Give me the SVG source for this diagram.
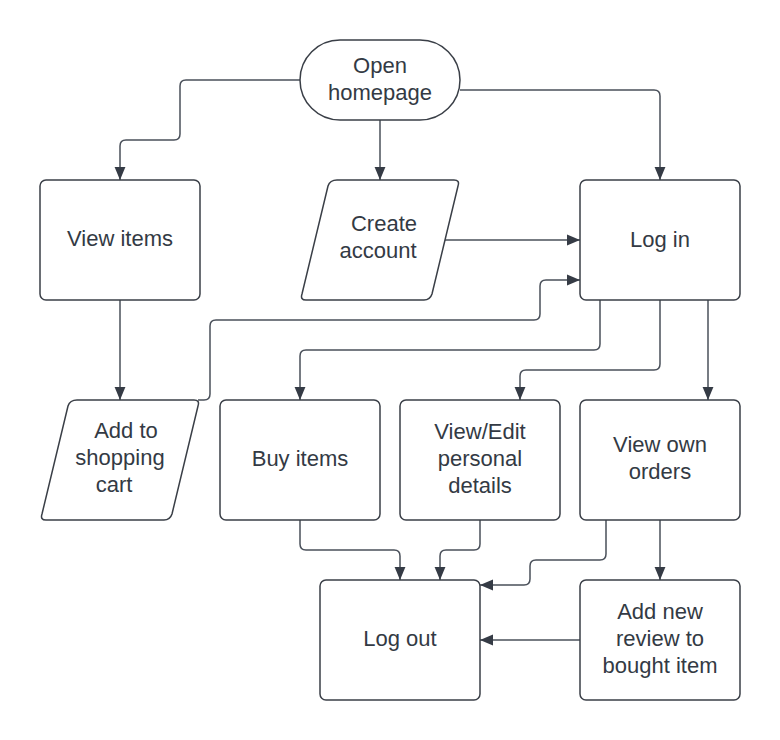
<svg xmlns="http://www.w3.org/2000/svg" width="780" height="740" viewBox="0 0 780 740">
<style>
.s{fill:#fff;stroke:#3a3f47;stroke-width:1.5}
.c{fill:none;stroke:#4a505a;stroke-width:1.5}
.t{font-family:"Liberation Sans",Arial,sans-serif;font-size:22px;fill:#333a44;text-anchor:middle}
</style>
<defs>
<marker id="a" viewBox="0 0 12 12" refX="12" refY="6" markerWidth="13" markerHeight="13" markerUnits="userSpaceOnUse" orient="auto">
<path d="M0,1 L12,6 L0,11 Z" fill="#353b45"/>
</marker>
</defs>
<rect width="780" height="740" fill="#fff"/>
<g id="connectors">
<path class="c" marker-end="url(#a)" d="M300,80 H186 Q180,80 180,86 V134 Q180,140 174,140 H126 Q120,140 120,146 V180"/>
<path class="c" marker-end="url(#a)" d="M380,120 V180"/>
<path class="c" marker-end="url(#a)" d="M460,90 H654 Q660,90 660,96 V180"/>
<path class="c" marker-end="url(#a)" d="M445,240 H580"/>
<path class="c" marker-end="url(#a)" d="M120,300 V400"/>
<path class="c" marker-end="url(#a)" d="M198,400 H204 Q210,400 210,394 V326 Q210,320 216,320 H534 Q540,320 540,314 V286 Q540,280 546,280 H580"/>
<path class="c" marker-end="url(#a)" d="M600,300 V344 Q600,350 594,350 H306 Q300,350 300,356 V400"/>
<path class="c" marker-end="url(#a)" d="M660,300 V364 Q660,370 654,370 H526 Q520,370 520,376 V400"/>
<path class="c" marker-end="url(#a)" d="M708,300 V400"/>
<path class="c" marker-end="url(#a)" d="M300,520 V544 Q300,550 306,550 H394 Q400,550 400,556 V580"/>
<path class="c" marker-end="url(#a)" d="M480,520 V544 Q480,550 474,550 H446 Q440,550 440,556 V580"/>
<path class="c" marker-end="url(#a)" d="M606,520 V554 Q606,560 600,560 H536 Q530,560 530,566 V579 Q530,585 524,585 H480"/>
<path class="c" marker-end="url(#a)" d="M660,520 V580"/>
<path class="c" marker-end="url(#a)" d="M580,640 H480"/>
</g>
<g id="open-homepage">
<rect class="s" x="300" y="40" width="160" height="80" rx="40"/>
<text class="t" x="380" y="73">Open</text>
<text class="t" x="380" y="100">homepage</text>
</g>
<g id="view-items">
<rect class="s" x="40" y="180" width="160" height="120" rx="6"/>
<text class="t" x="120" y="246">View items</text>
</g>
<g id="create-account">
<path class="s" d="M337,180 H454 Q460,180 458,186 L432,294 Q430,300 424,300 H306 Q300,300 302,294 L328,186 Q330,180 337,180 Z"/>
<text class="t" x="384" y="231">Create</text>
<text class="t" x="378" y="258">account</text>
</g>
<g id="log-in">
<rect class="s" x="580" y="180" width="160" height="120" rx="6"/>
<text class="t" x="660" y="247">Log in</text>
</g>
<g id="add-to-cart">
<path class="s" d="M77,400 H194 Q200,400 198,406 L172,514 Q170,520 164,520 H46 Q40,520 42,514 L68,406 Q70,400 77,400 Z"/>
<text class="t" x="126" y="438">Add to</text>
<text class="t" x="120" y="465">shopping</text>
<text class="t" x="114" y="492">cart</text>
</g>
<g id="buy-items">
<rect class="s" x="220" y="400" width="160" height="120" rx="6"/>
<text class="t" x="300" y="466">Buy items</text>
</g>
<g id="view-edit">
<rect class="s" x="400" y="400" width="160" height="120" rx="6"/>
<text class="t" x="480" y="439">View/Edit</text>
<text class="t" x="480" y="466">personal</text>
<text class="t" x="480" y="493">details</text>
</g>
<g id="view-orders">
<rect class="s" x="580" y="400" width="160" height="120" rx="6"/>
<text class="t" x="660" y="452">View own</text>
<text class="t" x="660" y="479">orders</text>
</g>
<g id="log-out">
<rect class="s" x="320" y="580" width="160" height="120" rx="6"/>
<text class="t" x="400" y="646">Log out</text>
</g>
<g id="add-review">
<rect class="s" x="580" y="580" width="160" height="120" rx="6"/>
<text class="t" x="660" y="619">Add new</text>
<text class="t" x="660" y="646">review to</text>
<text class="t" x="660" y="673">bought item</text>
</g>
</svg>
